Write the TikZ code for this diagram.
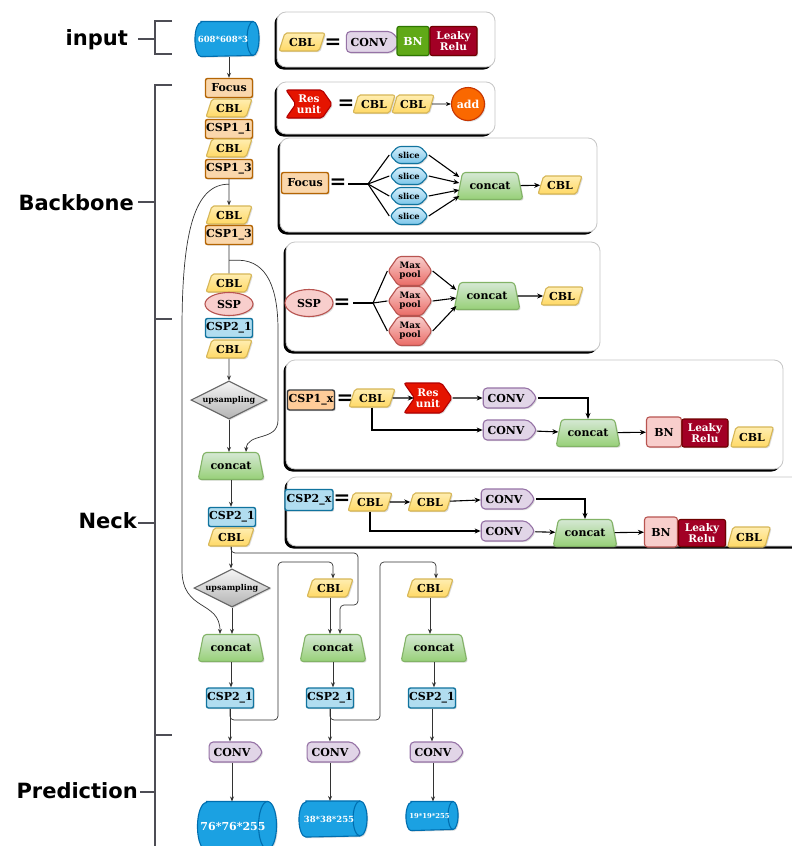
\documentclass[tikz,border=0pt]{standalone}
\usepackage{fontspec}
\setmainfont{DejaVu Serif}
\newfontfamily\labelfont{DejaVu Sans}
\usetikzlibrary{shapes.geometric,shapes.symbols,arrows.meta,shadows,calc}
\pgfdeclarelayer{bg}
\pgfsetlayers{bg,main}

\definecolor{cblT}{HTML}{FFEDB0}
\definecolor{cblB}{HTML}{FFD966}
\definecolor{cblD}{HTML}{D6B656}
\definecolor{orF}{HTML}{FAD7AC}
\definecolor{orD}{HTML}{B46504}
\definecolor{bluF}{HTML}{B1DDF0}
\definecolor{bluT}{HTML}{D4EEFA}
\definecolor{bluB}{HTML}{7CC6EA}
\definecolor{bluD}{HTML}{10739E}
\definecolor{pinkF}{HTML}{F8CECC}
\definecolor{pinkD}{HTML}{B85450}
\definecolor{pinkB}{HTML}{EA6B66}
\definecolor{grnT}{HTML}{D5E8D4}
\definecolor{grnB}{HTML}{97D077}
\definecolor{grnD}{HTML}{82B366}
\definecolor{purF}{HTML}{E1D5E7}
\definecolor{purD}{HTML}{9673A6}
\definecolor{bnF}{HTML}{60A917}
\definecolor{bnD}{HTML}{2D7600}
\definecolor{lrF}{HTML}{A20025}
\definecolor{lrD}{HTML}{6F0000}
\definecolor{ruF}{HTML}{E51400}
\definecolor{ruD}{HTML}{B20000}
\definecolor{addF}{HTML}{FA6800}
\definecolor{addD}{HTML}{C73500}
\definecolor{cylF}{HTML}{1BA1E2}
\definecolor{cylD}{HTML}{006EAF}
\definecolor{grT}{HTML}{F5F5F5}
\definecolor{grB}{HTML}{B3B3B3}
\definecolor{grD}{HTML}{666666}
\definecolor{xF}{HTML}{FFCC99}
\definecolor{xD}{HTML}{36393D}
\definecolor{brk}{HTML}{4D4D55}
\definecolor{lnC}{HTML}{333333}

\tikzset{
  sh/.style={drop shadow={opacity=0.28, shadow xshift=1.2pt, shadow yshift=-1.2pt}},
  txt/.style={font=\fontsize{11}{11}\selectfont\bfseries, inner sep=0pt, align=center, line width=1.1pt},
  cbl/.style={txt, sh, trapezium, trapezium left angle=62, trapezium right angle=118, trapezium stretches=true, minimum width=46pt, minimum height=18pt, top color=cblT, bottom color=cblB, draw=cblD, rounded corners=2pt},
  orbox/.style={txt, sh, rectangle, rounded corners=2pt, minimum width=47pt, minimum height=19pt, fill=orF, draw=orD, line width=1.4pt},
  blbox/.style={txt, sh, rectangle, rounded corners=2pt, minimum width=47pt, minimum height=19pt, fill=bluF, draw=bluD, line width=1.4pt},
  xbox/.style={txt, sh, rectangle, rounded corners=2pt, minimum width=47pt, minimum height=20pt, fill=xF, draw=xD, line width=1.4pt},
  sspnode/.style={txt, sh, ellipse, minimum width=48pt, minimum height=23pt, fill=pinkF, draw=pinkD},
  concat/.style={txt, sh, trapezium, trapezium left angle=62, trapezium right angle=62, trapezium stretches=true, minimum width=66pt, minimum height=27pt, top color=grnT, bottom color=grnB, draw=grnD, rounded corners=3pt},
  upsamp/.style={txt, sh, diamond, aspect=2, minimum width=76pt, minimum height=38pt, top color=grT, bottom color=grB, draw=grD, font=\fontsize{8}{8}\selectfont\bfseries},
  conv/.style={txt, sh, signal, signal to=east, signal pointer angle=100, minimum width=54pt, minimum height=20pt, fill=purF, draw=purD, rounded corners=4pt},
  cyltxt/.style={txt, rectangle, text=white},
  bnbox/.style={txt, sh, rectangle, rounded corners=2pt, fill=bnF, draw=bnD, text=white},
  bnp/.style={txt, sh, rectangle, rounded corners=3pt, fill=pinkF, draw=pinkD},
  lrbox/.style={txt, sh, rectangle, rounded corners=2pt, fill=lrF, draw=lrD, text=white, font=\fontsize{10.5}{10.5}\selectfont\bfseries},
  resu/.style={txt, sh, signal, signal from=west, signal to=east, signal pointer angle=110, fill=ruF, draw=ruD, text=white, rounded corners=2pt, font=\fontsize{10.5}{10.5}\selectfont\bfseries},
  slice/.style={txt, sh, signal, signal to=west and east, signal pointer angle=95, minimum width=38pt, minimum height=17pt, top color=bluT, bottom color=bluB, draw=bluD, rounded corners=3pt, font=\fontsize{8.3}{8.3}\selectfont\bfseries},
  maxp/.style={txt, sh, signal, signal to=west and east, signal pointer angle=110, minimum width=44pt, minimum height=29pt, top color=pinkF, bottom color=pinkB, draw=pinkD, rounded corners=3pt, font=\fontsize{8.8}{9}\selectfont\bfseries},
  addn/.style={txt, sh, circle, minimum size=33pt, fill=addF, draw=addD, text=white},
  eqs/.style={font=\fontsize{20}{20}\selectfont\bfseries, inner sep=0pt},
  lab/.style={font=\labelfont\fontsize{21}{21}\selectfont\bfseries, anchor=east, inner sep=0pt},
  conn/.style={draw=lnC, line width=0.7pt, -{Stealth[length=5pt,width=4pt]}},
  plain/.style={draw=lnC, line width=0.7pt},
  lconn/.style={draw=black, line width=1.1pt, -{Stealth[length=6pt,width=5pt]}},
  lline/.style={draw=black, line width=1.1pt},
  brack/.style={draw=brk, line width=1.3pt},
}
\newcommand\legbox[4]{%
  \fill[black, rounded corners=9pt] (#1-2.5,#2+2.5) rectangle (#3-2.5,#4+2.5);
  \draw[gray!45, fill=white, rounded corners=9pt, line width=0.8pt] (#1,#2) rectangle (#3,#4);}
% horizontal cylinder drawn behind the named text node #1; #2 = cap x radius, #3 = half height
\newcommand\cylshape[3]{%
  \begin{pgfonlayer}{bg}
  \filldraw[fill=cylF, draw=cylD, line width=1.1pt, sh]
    ([xshift=#2]#1.north west) -- ([xshift=-#2]#1.north east)
    arc[start angle=90, end angle=-90, x radius=#2, y radius=#3]
    -- ([xshift=#2]#1.south west)
    arc[start angle=270, end angle=90, x radius=#2, y radius=#3] -- cycle;
  \draw[draw=cylD, line width=1.1pt] ([xshift=-#2]#1.north east)
    arc[start angle=90, end angle=270, x radius=#2, y radius=#3];
  \end{pgfonlayer}}

\begin{document}
\begin{tikzpicture}[x=1pt,y=-1pt]
\useasboundingbox (0,0) rectangle (792,846);
\clip (0,0) rectangle (792,846);
\begin{pgfonlayer}{bg}
\fill[white] (0,0) rectangle (792,846);
\end{pgfonlayer}

% ---------- section labels and brackets
\node[lab] (tin) at (128,40) {input};
\node[lab] (tbb) at (134,203) {Backbone};
\node[lab] (tnk) at (137,521) {Neck};
\node[lab] (tpr) at (138,791) {Prediction};
\draw[brack] (138,39) -- (155,39);
\draw[brack] (172,21) -- (155,21) -- (155,54) -- (172,54);
\draw[brack] (172,85) -- (155,85) -- (155,850);
\draw[brack] (138,202) -- (155,202);
\draw[brack] (155,319) -- (172,319);
\draw[brack] (138,523) -- (155,523);
\draw[brack] (155,735) -- (172,735);
\draw[brack] (140,792) -- (155,792);

% ---------- legend boxes
\legbox{277}{12}{495}{67}
\legbox{277}{82}{495}{134}
\legbox{280}{138}{597}{232}
\legbox{286}{242}{600}{351}
\legbox{286}{360}{783}{469}
\legbox{287}{477}{805}{546}

% box 1: CBL
\node[cbl] (l1cbl) at (302,42) {CBL};
\node[eqs] (l1eq) at (333,44) {=};
\node[conv, minimum width=54pt, minimum height=21pt] (l1conv) at (369,42) {CONV};
\node[bnbox, minimum width=32pt, minimum height=29pt] (l1bn) at (413,41) {BN};
\node[lrbox, minimum width=47pt, minimum height=29pt] (l1lr) at (453.5,41) {Leaky\\Relu};

% box 2: Res unit
\node[resu, minimum width=46pt, minimum height=28pt] (l2ru) at (309,104) {Res\\unit};
\node[eqs] (l2eq) at (346,105) {=};
\node[cbl, minimum width=42pt] (l2c1) at (374,104) {CBL};
\node[cbl, minimum width=42pt] (l2c2) at (413,104) {CBL};
\node[addn] (l2add) at (468,104) {add};
\draw[conn, draw=black] (l2c2) -- (l2add);

% box 3: Focus
\node[orbox, minimum height=21pt] (l3f) at (305,183) {Focus};
\node[eqs] (l3eq) at (338,184) {=};
\coordinate (l3a) at (348,184);
\coordinate (l3b) at (368,184);
\node[slice] (s1) at (409,155) {slice};
\node[slice] (s2) at (409,176) {slice};
\node[slice] (s3) at (409,196) {slice};
\node[slice] (s4) at (409,216) {slice};
\node[concat] (l3cc) at (490,186) {concat};
\node[cbl, minimum width=44pt] (l3cbl) at (560,185) {CBL};
\draw[lline] (l3a) -- (l3b);
\foreach \s in {s1,s2,s3,s4} \draw[lline] (l3b) -- (\s.west);
\draw[lconn] (s1.east) -- ([yshift=9pt]l3cc.west);
\draw[lconn] (s2.east) -- ([yshift=3pt]l3cc.west);
\draw[lconn] (s3.east) -- ([yshift=-4pt]l3cc.west);
\draw[lconn] (s4.east) -- ([yshift=-10pt]l3cc.west);
\draw[lconn] (l3cc) -- (l3cbl);

% box 4: SSP
\node[sspnode, minimum height=27pt] (l4s) at (309,303) {SSP};
\node[eqs] (l4eq) at (342,304) {=};
\coordinate (l4a) at (353,303);
\coordinate (l4b) at (373,303);
\node[maxp] (m1) at (410,271) {Max\\pool};
\node[maxp] (m2) at (410,301) {Max\\pool};
\node[maxp] (m3) at (410,331) {Max\\pool};
\node[concat] (l4cc) at (487,296) {concat};
\node[cbl, minimum width=42pt] (l4cbl) at (562,296) {CBL};
\draw[lline] (l4a) -- (l4b);
\foreach \m in {m1,m2,m3} \draw[lline] (l4b) -- (\m.west);
\draw[lconn] (m1.east) -- ([yshift=6pt]l4cc.west);
\draw[lconn] (m2.east) -- ([yshift=-2pt]l4cc.west);
\draw[lconn] (m3.east) -- ([yshift=-10pt]l4cc.west);
\draw[lconn] (l4cc) -- (l4cbl);

% box 5: CSP1_x
\node[xbox] (l5x) at (311,400) {CSP1\_x};
\node[eqs] (l5eq) at (345,400) {=};
\node[cbl] (l5cbl) at (372,398) {CBL};
\node[resu, minimum width=48pt, minimum height=30pt] (l5ru) at (428,398) {Res\\unit};
\node[conv] (l5cv1) at (506,398) {CONV};
\node[conv] (l5cv2) at (506,430) {CONV};
\node[concat, minimum width=64pt] (l5cc) at (588,433) {concat};
\node[bnp, minimum width=35pt, minimum height=30pt] (l5bn) at (664,432) {BN};
\node[lrbox, minimum width=46pt, minimum height=28pt] (l5lr) at (705,433) {Leaky\\Relu};
\node[cbl, minimum width=43pt, minimum height=20pt] (l5c2) at (752,437) {CBL};
\draw[lconn] (l5cbl) -- (l5ru);
\draw[lconn] (l5ru) -- (l5cv1);
\draw[lconn] (l5cv1.east) -| (l5cc.north);
\draw[lconn] (l5cbl.south) |- (l5cv2.west);
\draw[lconn] (l5cv2) -- (l5cc);
\draw[lconn] (l5cc) -- (l5bn);

% box 6: CSP2_x
\node[blbox, minimum width=48pt, minimum height=21pt] (l6x) at (309,500) {CSP2\_x};
\node[eqs] (l6eq) at (342,500) {=};
\node[cbl, minimum width=44pt] (l6c1) at (370,502) {CBL};
\node[cbl, minimum width=44pt] (l6c2) at (430,502) {CBL};
\node[conv] (l6cv1) at (504,499) {CONV};
\node[conv] (l6cv2) at (504,531) {CONV};
\node[concat, minimum width=64pt] (l6cc) at (585,533) {concat};
\node[bnp, minimum width=33pt, minimum height=30pt] (l6bn) at (661,532) {BN};
\node[lrbox, minimum width=47pt, minimum height=27pt] (l6lr) at (702,533) {Leaky\\Relu};
\node[cbl, minimum width=43pt, minimum height=20pt] (l6c3) at (749,537) {CBL};
\draw[lconn] (l6c1) -- (l6c2);
\draw[lconn] (l6c2) -- (l6cv1);
\draw[lconn] (l6cv1.east) -| (l6cc.north);
\draw[lconn] (l6c1.south) |- (l6cv2.west);
\draw[lconn] (l6cv2) -- (l6cc);
\draw[lconn] (l6cc) -- (l6bn);

% ---------- main column
\node[cyltxt, minimum width=63pt, minimum height=34pt, font=\fontsize{8.5}{8.5}\selectfont\bfseries] (inp) at (227,39) {608*608*3\hspace*{8pt}};
\cylshape{inp}{6pt}{17pt}
\node[orbox] (focus) at (229,88) {Focus};
\node[cbl] (cblA) at (229,108) {CBL};
\node[orbox] (csp11) at (229,129) {CSP1\_1};
\node[cbl] (cblB) at (229,148) {CBL};
\node[orbox] (csp13a) at (229,169) {CSP1\_3};
\node[cbl] (cblC) at (229,215) {CBL};
\node[orbox] (csp13b) at (229,235) {CSP1\_3};
\node[cbl] (cblD) at (229,283) {CBL};
\node[sspnode] (ssp) at (229,304) {SSP};
\node[blbox] (csp21a) at (229,328) {CSP2\_1};
\node[cbl] (cblE) at (229,349) {CBL};
\node[upsamp] (up1) at (229,400) {upsampling};
\node[concat] (cc1) at (231,466) {concat};
\node[blbox] (csp21b) at (232,517) {CSP2\_1};
\node[cbl] (cblF) at (231,537) {CBL};
\node[upsamp] (up2) at (232,588) {upsampling};
\node[cbl] (cblG) at (330,588) {CBL};
\node[cbl] (cblH) at (430,588) {CBL};
\node[concat] (cc3) at (231,648) {concat};
\node[concat] (cc4) at (333,648) {concat};
\node[concat] (cc5) at (434,648) {concat};
\node[blbox, minimum height=20pt] (p1) at (230,698) {CSP2\_1};
\node[blbox, minimum height=20pt] (p2) at (330,698) {CSP2\_1};
\node[blbox, minimum height=20pt] (p3) at (432,698) {CSP2\_1};
\node[conv] (cv1) at (232,752) {CONV};
\node[conv] (cv2) at (330,752) {CONV};
\node[conv] (cv3) at (433,752) {CONV};
\node[cyltxt, minimum width=78pt, minimum height=48pt, font=\fontsize{11}{11}\selectfont\bfseries] (o1) at (237,826) {76*76*255\hspace*{8pt}};
\cylshape{o1}{9pt}{24pt}
\node[cyltxt, minimum width=67pt, minimum height=35pt, font=\fontsize{8.5}{8.5}\selectfont\bfseries] (o2) at (333,819) {38*38*255\hspace*{8pt}};
\cylshape{o2}{7pt}{17.5pt}
\node[cyltxt, minimum width=51pt, minimum height=28pt, font=\fontsize{6.8}{6.8}\selectfont\bfseries] (o3) at (432,816) {19*19*255\hspace*{5pt}};
\cylshape{o3}{5pt}{14pt}

% ---------- main connectors
\draw[conn] (focus.north |- inp.south) -- (focus.north);
\draw[conn] (csp13a.south) -- (cblC.north);
\draw[plain] (csp13b.south) -- (cblD.north);
\draw[conn] (cblE.south) -- (up1.north);
\draw[conn] (up1.south) -- (up1.south |- cc1.north);
\draw[conn] (cc1.south) -- (cc1.south |- csp21b.north);
\draw[conn] (cblF.south) -- (cblF.south |- up2.north);
\draw[conn] (up2.south) -- (up2.south |- cc3.north);
\draw[conn] (cblG.south) -- (cblG.south |- cc4.north);
\draw[conn] (cblH.south) -- (cblH.south |- cc5.north);
\draw[conn] (cc3.south) -- (cc3.south |- p1.north);
\draw[conn] (cc4.south) -- (cc4.south |- p2.north);
\draw[conn] (cc5.south) -- (cc5.south |- p3.north);
\draw[conn] (p1.south) -- (p1.south |- cv1.north);
\draw[conn] (p2.south) -- (p2.south |- cv2.north);
\draw[conn] (p3.south) -- (p3.south |- cv3.north);
\draw[conn] (cv1.south) -- (cv1.south |- o1.north);
\draw[conn] (cv2.south) -- (cv2.south |- o2.north);
\draw[conn] (cv3.south) -- (cv3.south |- o3.north);

% long skip connections
\draw[conn] ([yshift=-5pt]csp13a.south) .. controls (195,184) and (182,230) .. (182,330) -- (182,570) .. controls (182,612) and (220,600) .. ([xshift=-11pt]cc3.north);
\draw[conn] ([yshift=-15pt]csp13b.south) -- ++(10,0) .. controls (268,261) and (278,290) .. (278,330) -- (278,420) .. controls (278,442) and (247,432) .. ([xshift=15pt]cc1.north);
\draw[conn, rounded corners=4pt] (cblF.south) |- (358,553) |- (340,605) -- ([xshift=7pt]cc4.north);
\draw[conn, rounded corners=4pt] (p1.south) |- (278,720) -- (278,562) -| ([xshift=3pt]cblG.north);
\draw[conn, rounded corners=4pt] (p2.south) |- (380,720) -- (380,562) -| ([xshift=6pt]cblH.north);
\end{tikzpicture}
\end{document}
